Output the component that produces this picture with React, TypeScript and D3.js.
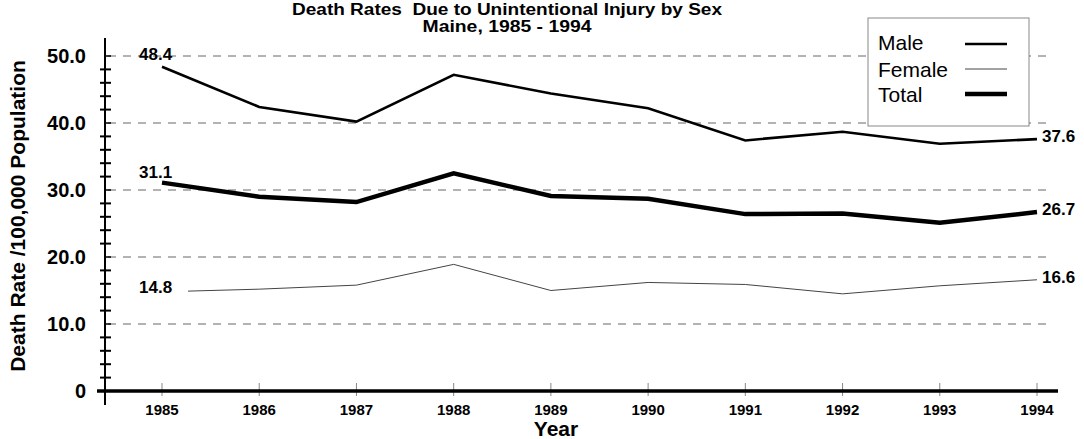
import React from "react";
import * as d3 from "d3";

const years = [1985, 1986, 1987, 1988, 1989, 1990, 1991, 1992, 1993, 1994];
const male = [48.4, 42.4, 40.2, 47.2, 44.4, 42.2, 37.4, 38.7, 36.9, 37.6];
const female = [14.8, 15.2, 15.8, 18.9, 15.0, 16.2, 15.9, 14.5, 15.7, 16.6];
const total = [31.1, 29.0, 28.2, 32.5, 29.1, 28.7, 26.4, 26.5, 25.1, 26.7];
const gridValues = [10, 20, 30, 40, 50];
const yTickLabels = ["0", "10.0", "20.0", "30.0", "40.0", "50.0"];
const yTickValues = [0, 10, 20, 30, 40, 50];
const minorTicks = d3.range(0, 51, 2).filter((v) => v % 10 !== 0);

const FONT = "Arial, 'Liberation Sans', Helvetica, sans-serif";

export default function App() {
  const x = d3.scaleLinear().domain([1985, 1994]).range([162, 1037]);
  const y = d3.scaleLinear().domain([0, 50]).range([391, 56]);
  const line = d3
    .line<number>()
    .x((_, i) => x(years[i]))
    .y((d) => y(d));

  const series = [
    { name: "Male", values: male, width: 2.6, color: "#000" },
    { name: "Female", values: female, width: 1, color: "#444" },
    { name: "Total", values: total, width: 4.5, color: "#000" },
  ];

  const last = years.length - 1;
  const legendBase = [50, 77, 102];
  const legendLineY = [44, 69, 94];

  return (
    <svg
      width={1084}
      height={439}
      style={{ position: "absolute", left: 0, top: 0, background: "#fff" }}
      fontFamily={FONT}
    >
      <rect x={0} y={0} width={1084} height={439} fill="#fff" />
      {/* Title */}
      <text
        x={507}
        y={15}
        textAnchor="middle"
        fontWeight="bold"
        fontSize={16}
        textLength={430}
        lengthAdjust="spacingAndGlyphs"
        style={{ whiteSpace: "pre" }}
      >
        {"Death Rates  Due to Unintentional Injury by Sex"}
      </text>
      <text
        x={507}
        y={32}
        textAnchor="middle"
        fontWeight="bold"
        fontSize={16}
        textLength={169}
        lengthAdjust="spacingAndGlyphs"
      >
        Maine, 1985 - 1994
      </text>

      {/* Gridlines */}
      {gridValues.map((v) => (
        <line
          key={v}
          x1={108}
          x2={1051}
          y1={y(v)}
          y2={y(v)}
          stroke="#666"
          strokeWidth={1}
          strokeDasharray="8,7"
        />
      ))}

      {/* Y axis */}
      <line x1={105} x2={105} y1={38} y2={405} stroke="#000" strokeWidth={2} />
      {minorTicks.map((v) => (
        <line key={v} x1={100} x2={111} y1={y(v)} y2={y(v)} stroke="#000" strokeWidth={2} />
      ))}
      {yTickValues.map((v) => (
        <line key={"mt" + v} x1={105} x2={111} y1={y(v)} y2={y(v)} stroke="#000" strokeWidth={1.5} />
      ))}
      {yTickValues.map((v, i) => (
        <text key={"yl" + v} x={86} y={y(v) + 7} textAnchor="end" fontWeight="bold" fontSize={20}>
          {yTickLabels[i]}
        </text>
      ))}
      <text
        transform={`translate(25, 216) rotate(-90)`}
        textAnchor="middle"
        fontWeight="bold"
        fontSize={21}
      >
        Death Rate /100,000 Population
      </text>

      {/* X axis */}
      {years.map((yr) => (
        <line key={"xt" + yr} x1={x(yr)} x2={x(yr)} y1={383} y2={396} stroke="#888" strokeWidth={1} />
      ))}
      <line x1={97} x2={1058} y1={y(0)} y2={y(0)} stroke="#000" strokeWidth={3.5} />
      {years.map((yr) => (
        <text key={"xl" + yr} x={x(yr)} y={415} textAnchor="middle" fontWeight="bold" fontSize={15}>
          {yr}
        </text>
      ))}
      <text x={556} y={436} textAnchor="middle" fontWeight="bold" fontSize={21}>
        Year
      </text>

      {/* Lines */}
      {series.map((s) => (
        <path
          key={s.name}
          d={line(s.values) || ""}
          fill="none"
          stroke={s.color}
          strokeWidth={s.width}
          strokeLinejoin="miter"
        />
      ))}

      {/* Value labels */}
      <text x={x(1985) - 23} y={y(male[0]) - 7} fontWeight="bold" fontSize={17}>
        {male[0].toFixed(1)}
      </text>
      <text x={x(1985) - 23} y={y(total[0]) - 5} fontWeight="bold" fontSize={17}>
        {total[0].toFixed(1)}
      </text>
      <rect x={x(1985) - 26} y={y(female[0]) - 16} width={52} height={22} fill="#fff" />
      <text x={x(1985) - 23} y={y(female[0]) + 1} fontWeight="bold" fontSize={17}>
        {female[0].toFixed(1)}
      </text>
      {series.map((s) => (
        <text
          key={"r" + s.name}
          x={x(years[last]) + 5}
          y={y(s.values[last]) + 3}
          fontWeight="bold"
          fontSize={17}
        >
          {s.values[last].toFixed(1)}
        </text>
      ))}

      {/* Legend */}
      <rect x={868} y={18} width={161} height={108} fill="#fff" stroke="#888" strokeWidth={1} />
      {series.map((s, i) => (
        <g key={"lg" + s.name}>
          <text x={878} y={legendBase[i]} fontSize={21}>
            {s.name}
          </text>
          <line
            x1={965}
            x2={1007}
            y1={legendLineY[i]}
            y2={legendLineY[i]}
            stroke={s.color}
            strokeWidth={s.width}
          />
        </g>
      ))}
    </svg>
  );
}
